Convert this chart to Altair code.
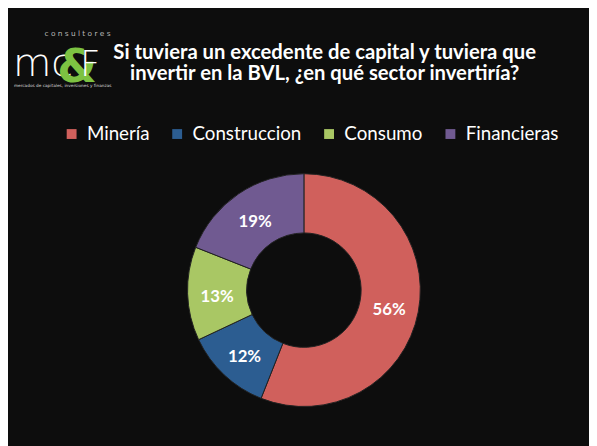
import altair as alt
import pandas as pd

categories = ["Minería", "Construccion", "Consumo", "Financieras"]
values = [56, 12, 13, 19]
labels = ["56%", "12%", "13%", "19%"]
colors = ["#D0605C", "#2C5D91", "#A9C764", "#705A91"]

title_lines = ["Si tuviera un excedente de capital y tuviera que",
               "invertir en la BVL, ¿en qué sector invertiría?"]

df = pd.DataFrame({"sector": categories, "value": values, "label": labels,
                   "order": list(range(len(categories)))})

W, H = 589, 438
CX, CY = 300, 283
FONT = "Lato"

color_scale = alt.Scale(domain=categories, range=colors)

base = alt.Chart(df).encode(
    theta=alt.Theta("value:Q", stack=True),
    order=alt.Order("order:Q"),
)

arcs = base.mark_arc(outerRadius=118, innerRadius=58, stroke="#222222",
                     strokeWidth=1).encode(
    color=alt.Color("sector:N", scale=color_scale, sort=categories,
                    legend=alt.Legend(title=None, orient="none", direction="horizontal",
                                      legendX=55, legendY=115,
                                      symbolType="square", symbolSize=100,
                                      symbolStrokeWidth=0,
                                      labelColor="white", labelFontSize=19,
                                      labelFont=FONT, labelOffset=6,
                                      columnPadding=18)),
    x=alt.value(CX), y=alt.value(CY),
)

text = base.mark_text(radius=88, fontSize=17, fontWeight="bold", font=FONT,
                      color="white", dy=4).encode(
    text="label:N", x=alt.value(CX), y=alt.value(CY),
)

def title_line(t, yb):
    return alt.Chart(pd.DataFrame({"t": [t]})).mark_text(
        fontSize=20.5, fontWeight="bold", font=FONT, color="white",
        align="center", baseline="alphabetic").encode(
        text="t:N", x=alt.value(321), y=alt.value(yb))

title1 = title_line(title_lines[0], 49)
title2 = title_line(title_lines[1], 70)

logo1 = alt.Chart(pd.DataFrame({"t": ["c o n s u l t o r e s"]})).mark_text(
    fontSize=7.5, font="DejaVu Sans", color="#bbbbbb",
    align="left", baseline="middle").encode(text="t:N", x=alt.value(37), y=alt.value(23))
logo_mc = alt.Chart(pd.DataFrame({"t": ["mc"]})).mark_text(
    fontSize=40, font="DejaVu Sans", fontWeight=200, color="white",
    align="left", baseline="alphabetic").encode(text="t:N", x=alt.value(5), y=alt.value(66))
logo_amp = alt.Chart(pd.DataFrame({"t": ["&"]})).mark_text(
    fontSize=46, font="DejaVu Sans", fontWeight="bold", color="#7DC242",
    align="left", baseline="alphabetic").encode(text="t:N", x=alt.value(50), y=alt.value(72))
logo_f = alt.Chart(pd.DataFrame({"t": ["F"]})).mark_text(
    fontSize=36, font="DejaVu Sans", fontWeight=200, color="white",
    align="left", baseline="alphabetic").encode(text="t:N", x=alt.value(73), y=alt.value(66))
logo_sub = alt.Chart(pd.DataFrame({"t": ["mercados de capitales, inversiones y finanzas"]})).mark_text(
    fontSize=4.3, font="DejaVu Sans", color="#dddddd",
    align="left", baseline="middle").encode(text="t:N", x=alt.value(6), y=alt.value(76))

chart = alt.layer(arcs, text, title1, title2, logo1, logo_mc, logo_amp, logo_f,
                  logo_sub).properties(
    width=W, height=H, background="#0d0d0d", padding=0,
    autosize=alt.AutoSizeParams(type="none"),
).configure_view(stroke=None)

chart.save("out.html", embed_options={"renderer": "svg", "actions": False})
